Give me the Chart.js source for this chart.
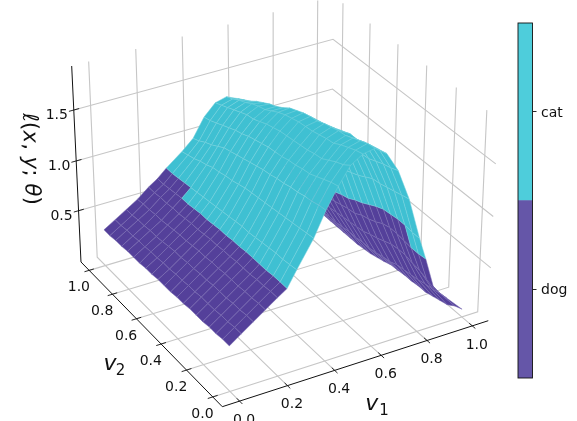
<!DOCTYPE html>
<html><head><meta charset="utf-8">
<script src="https://cdn.jsdelivr.net/npm/chart.js@4"></script>
<style>html,body{margin:0;padding:0;background:#fff;overflow:hidden}
canvas{position:absolute;display:block}</style></head>
<body><canvas id="main" width="577" height="421" style="left:0;top:0;width:577px;height:421px"></canvas>
<canvas id="bar" width="77" height="421" style="left:500px;top:0;width:77px;height:421px"></canvas>
<script>
const v1Grid=[0,.05,.1,.15,.2,.24,.28,.35,.4,.45,.5,.55,.6,.65,.7,.75,.8,.83,.87,.93,1];
const v2Grid=[0,.05,.1,.15,.2,.25,.3,.35,.4,.45,.5,.55,.6,.65,.7,.75,.8,.85,.9,.95,1];
const surface=[
[.42,.50,.58,.66,.74,.80,.95,1.20,1.43,1.62,1.78,1.85,1.87,1.79,1.60,1.30,.89,.67,.35,.21,.05],
[.42,.50,.58,.66,.74,.80,.94,1.19,1.42,1.60,1.73,1.83,1.86,1.77,1.57,1.28,.89,.66,.38,.20,.02],
[.41,.49,.57,.65,.73,.80,.93,1.18,1.40,1.57,1.70,1.80,1.83,1.75,1.55,1.26,.90,.66,.41,.18,-.03],
[.41,.49,.57,.65,.73,.79,.93,1.17,1.39,1.54,1.66,1.77,1.80,1.73,1.52,1.24,.90,.67,.42,.17,-.05],
[.40,.48,.56,.64,.72,.79,.92,1.16,1.37,1.51,1.62,1.73,1.77,1.70,1.49,1.22,.89,.68,.44,.15,-.07],
[.40,.48,.56,.64,.72,.79,.91,1.15,1.36,1.50,1.61,1.72,1.76,1.70,1.48,1.21,.88,.68,.44,.14,-.09],
[.40,.48,.56,.64,.72,.79,.90,1.14,1.34,1.48,1.59,1.70,1.74,1.67,1.44,1.17,.85,.66,.43,.13,-.09],
[.39,.47,.55,.63,.71,.78,.89,1.13,1.33,1.47,1.58,1.68,1.72,1.64,1.41,1.13,.81,.62,.40,.12,-.10],
[.39,.47,.55,.63,.71,.78,.89,1.12,1.31,1.45,1.57,1.67,1.69,1.61,1.38,1.10,.77,.59,.37,.09,-.10],
[.38,.46,.54,.62,.70,.77,.88,1.11,1.30,1.44,1.56,1.66,1.68,1.59,1.36,1.07,.74,.57,.35,.08,-.11],
[.38,.46,.54,.62,.70,.77,.87,1.10,1.28,1.43,1.55,1.64,1.66,1.57,1.33,1.03,.70,.53,.32,.06,-.115],
[.38,.45,.53,.61,.69,.76,.86,1.08,1.26,1.41,1.53,1.62,1.63,1.53,1.29,.99,.68,.52,.31,.05,-.14],
[.37,.45,.53,.60,.68,.75,.85,1.06,1.24,1.39,1.51,1.59,1.60,1.49,1.25,.96,.65,.50,.30,.05,-.16],
[.37,.44,.52,.60,.68,.75,.84,1.05,1.22,1.37,1.48,1.55,1.55,1.44,1.20,.92,.62,.48,.29,.04,-.18],
[.36,.44,.51,.59,.67,.74,.83,1.03,1.20,1.34,1.45,1.51,1.51,1.38,1.15,.88,.60,.46,.28,.04,-.19],
[.36,.43,.50,.58,.66,.73,.82,1.02,1.18,1.32,1.44,1.49,1.48,1.35,1.13,.86,.58,.45,.27,.03,-.2],
[.36,.43,.50,.57,.66,.73,.81,.99,1.14,1.29,1.41,1.46,1.44,1.30,1.09,.83,.56,.43,.26,.02,-.2],
[.35,.42,.49,.57,.65,.72,.80,.97,1.10,1.26,1.38,1.42,1.40,1.26,1.05,.80,.54,.41,.25,.02,-.2],
[.35,.42,.49,.56,.65,.71,.79,.94,1.07,1.23,1.35,1.39,1.35,1.22,1.01,.77,.53,.40,.24,.01,-.2],
[.34,.41,.48,.56,.64,.70,.78,.92,1.03,1.20,1.32,1.35,1.31,1.18,.97,.74,.51,.39,.23,.01,-.2],
[.34,.41,.48,.55,.64,.70,.78,.90,1.00,1.18,1.29,1.32,1.27,1.14,.94,.72,.50,.38,.22,0,-.2]];
const catStart=[5,5,5,5,5,5,5,5,5,5,5,5,5,5,5,5,6,6,6,6];
const catEnd=[17,17,16,16,16,16,16,16,16,16,16,16,16,16,16,16,16,16,16,16];
const v1Ticks=[0,.2,.4,.6,.8,1];
const v2Ticks=[0,.2,.4,.6,.8,1];
const zTicks=[.5,1,1.5];
const classNames=['dog','cat'];
const classValues=[1,1];
const DOG='#54409a',CAT='#3fc0d2',DOGL='#7a6cb3',CATL='#74d0dd';
const GRID='#c6c6c6',INK='#111111';
const M=1/14,ZLO=-.0275,ZHI=1.923;
const bu=v=>(v+M)/(1+2*M), bw=z=>(z-ZLO)/(ZHI-ZLO);
function proj(u,v,w){
  const W=1+.0414*u+.0878*v-.04738*w;
  return {x:(222.3+286.2*u-134.19*v-13.52*w)/W,y:(406.7-72.72*u-121.7*v-216.3*w)/W,d:W};
}
const P=(a,b,z)=>proj(bu(a),bu(b),bw(z));
const lineDs=(pts,color,width,order)=>({data:pts,showLine:true,fill:false,borderColor:color,borderWidth:width,pointRadius:0,order,tension:0});
const datasets=[];
for(const t of v1Ticks){const u=bu(t);
  datasets.push(lineDs([proj(u,0,0),proj(u,1,0),proj(u,1,1)],GRID,1.1,1e7));
  datasets.push(lineDs([proj(u,-.018,0),proj(u,.018,0)],INK,.9,5));}
for(const t of v2Ticks){const v=bu(t);
  datasets.push(lineDs([proj(0,v,0),proj(1,v,0),proj(1,v,1)],GRID,1.1,1e7));
  datasets.push(lineDs([proj(-.018,v,0),proj(.018,v,0)],INK,.9,5));}
for(const t of zTicks){const w=bw(t);
  datasets.push(lineDs([proj(0,1,w),proj(1,1,w),proj(1,0,w)],GRID,1.1,1e7));
  datasets.push(lineDs([proj(-.018,1,w),proj(.02,1,w)],INK,.9,5));}
datasets.push(lineDs([proj(0,1,1),proj(0,1,0),proj(0,0,0),proj(1,0,0)],INK,1,4));
for(let r=0;r<v2Grid.length-1;r++)for(let i=0;i<v1Grid.length-1;i++){
  const a=P(v1Grid[i],v2Grid[r],surface[r][i]),b=P(v1Grid[i+1],v2Grid[r],surface[r][i+1]),
        c=P(v1Grid[i+1],v2Grid[r+1],surface[r+1][i+1]),d=P(v1Grid[i],v2Grid[r+1],surface[r+1][i]);
  const cat=i>=catStart[r]&&i<catEnd[r];
  datasets.push({data:[a,b,c,d,a],showLine:true,fill:'shape',tension:0,pointRadius:0,
    backgroundColor:cat?CAT:DOG,borderColor:cat?CATL:DOGL,borderWidth:.5,
    order:Math.round((a.d+b.d+c.d+d.d)*1e5)});
}
function put(ctx,t,x,y,font,al){ctx.font=font;ctx.textAlign=al||'center';ctx.textBaseline='middle';ctx.fillText(t,x,y);}
const f='14px "DejaVu Sans"';
const textPlugin={id:'axisText',afterDraw(ch){
  const ctx=ch.ctx;ctx.save();ctx.fillStyle=INK;
  for(const t of v1Ticks){const p=proj(bu(t),0,0);put(ctx,t.toFixed(1),p.x+4.5,p.y+19,f);}
  for(const t of v2Ticks){const p=proj(0,bu(t),0);put(ctx,t.toFixed(1),p.x-10.3,p.y+17.3,f);}
  for(const t of zTicks){const p=proj(0,1,bw(t));put(ctx,t.toFixed(1),p.x-17,p.y+5.2,f);}
  const it='italic 22px "DejaVu Sans"';
  put(ctx,'v',371.7,404,it);put(ctx,'1',384,411,'15px "DejaVu Sans"');
  put(ctx,'v',110,364,it);put(ctx,'2',120.5,371,'15px "DejaVu Sans"');
  ctx.translate(30,159);ctx.rotate(Math.PI/2-.03);
  const segs=[['ℓ',1],['(',0],['x',1],[',',0],[' ',0],['y',1],[';',0],[' ',0],['θ',1],[')',0]];
  const fs=s=>(s?'italic ':'')+'21.5px "DejaVu Sans"';
  let w=0;for(const s of segs){ctx.font=fs(s[1]);w+=ctx.measureText(s[0]).width;}
  let x=-w/2;ctx.textAlign='left';ctx.textBaseline='middle';
  for(const s of segs){ctx.font=fs(s[1]);ctx.fillText(s[0],x,0);x+=ctx.measureText(s[0]).width;}
  ctx.restore();
}};
new Chart(document.getElementById('main'),{type:'scatter',data:{datasets},plugins:[textPlugin],options:{
  responsive:false,animation:false,events:[],layout:{padding:0},
  plugins:{legend:{display:false},tooltip:{enabled:false},filler:{drawTime:'beforeDatasetDraw',propagate:false}},
  scales:{x:{type:'linear',min:0,max:577,display:false},y:{type:'linear',min:0,max:421,reverse:true,display:false}}
}});
const boxPlugin={id:'box',afterDraw(ch){const a=ch.chartArea,c=ch.ctx,s=ch.scales.y;c.save();c.strokeStyle=INK;c.lineWidth=.9;
  c.strokeRect(a.left,a.top,a.right-a.left,a.bottom-a.top);
  c.fillStyle=INK;classNames.forEach((n,i)=>put(c,n,a.right+8.5,s.getPixelForValue(i+.5)+1.6,f,'left'));c.restore();}};
new Chart(document.getElementById('bar'),{type:'bar',data:{labels:['class'],datasets:[
  {label:classNames[0],data:[classValues[0]],backgroundColor:'#6556a8'},
  {label:classNames[1],data:[classValues[1]],backgroundColor:'#4ecddb'}]},plugins:[boxPlugin],options:{
  responsive:false,animation:false,events:[],layout:{padding:{top:23,bottom:43,left:18,right:0}},
  datasets:{bar:{barPercentage:1,categoryPercentage:1}},
  plugins:{legend:{display:false},tooltip:{enabled:false}},
  scales:{x:{stacked:true,display:false},
    y:{stacked:true,position:'right',min:0,max:2,
      afterBuildTicks(s){s.ticks=[{value:.5},{value:1.5}];},
      afterFit(s){s.width=44.5;},
      border:{display:false},
      grid:{drawOnChartArea:false,tickLength:4,tickColor:INK,tickWidth:.9},
      ticks:{display:false}}}
}});
</script></body></html>
